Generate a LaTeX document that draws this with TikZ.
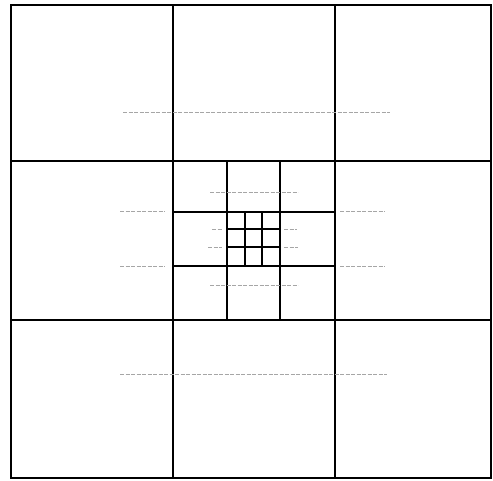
\documentclass[tikz,border=0pt]{standalone}
\begin{document}
\begin{tikzpicture}[x=1pt,y=-1pt,
  gridline/.style={line width=1.2pt,black},
  faint/.style={line width=0.6pt,black!35,dash pattern=on 4pt off 1.5pt}]
\useasboundingbox (0,0) rectangle (493,480);
% outer square and 3x3 grid
\draw[gridline] (11,5) rectangle (491,478);
\draw[gridline] (173,5) -- (173,478);
\draw[gridline] (335,5) -- (335,478);
\draw[gridline] (11,161) -- (491,161);
\draw[gridline] (11,320) -- (491,320);
% middle cell subdivided
\draw[gridline] (227,161) -- (227,320);
\draw[gridline] (280,161) -- (280,320);
\draw[gridline] (173,212) -- (335,212);
\draw[gridline] (173,266) -- (335,266);
% innermost cell subdivided
\draw[gridline] (245,212) -- (245,266);
\draw[gridline] (262,212) -- (262,266);
\draw[gridline] (227,229) -- (280,229);
\draw[gridline] (227,247) -- (280,247);
% faint traces
\draw[faint] (123,112) -- (390,112);
\draw[faint] (120,374) -- (387,374);
\draw[faint] (120,211) -- (165,211);
\draw[faint] (340,211) -- (385,211);
\draw[faint] (120,266) -- (165,266);
\draw[faint] (340,266) -- (385,266);
\draw[faint] (210,192) -- (298,192);
\draw[faint] (210,285) -- (298,285);
\draw[faint] (212,229) -- (222,229);
\draw[faint] (284,229) -- (297,229);
\draw[faint] (208,247) -- (222,247);
\draw[faint] (284,247) -- (298,247);
\end{tikzpicture}
\end{document}
